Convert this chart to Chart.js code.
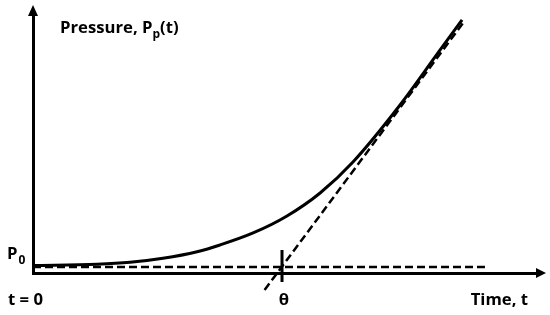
<!DOCTYPE html>
<html>
<head>
<meta charset="utf-8">
<script src="https://cdn.jsdelivr.net/npm/chart.js@4"></script>
<style>
  html, body { margin: 0; padding: 0; background: #fff; }
  #wrap { width: 550px; height: 315px; }
</style>
</head>
<body>
<div id="wrap"><canvas id="c" width="550" height="315"></canvas></div>
<script>
// Time in units of theta, pressure in units of P0
const THETA = 1;
const P0 = 1;

// Measured pressure curve P_p(t)
const curveT = [0, 0.257, 0.39, 0.522, 0.659, 0.751, 0.884, 1.02, 1.153, 1.285, 1.474, 1.635, 1.723];
const curveP = [1.25, 1.45, 1.78, 2.45, 3.55, 4.67, 6.67, 9.5, 13.33, 18.5, 28.0, 37.17, 42.17];

// Asymptote (tangent) extrapolated back to theta
const tangentT = [0.93, 1.73];
const tangentP = [-2.83, 41.83];

// Baseline P0 and the tick at theta
const baseT = [0, 1.815];
const tickP = [3.83, -1.5];

const X_MAX = 2.024;
const Y_MAX = 43;

const FONT = 'bold 16.7px "Open Sans", sans-serif';
const SUB  = 'bold 12px "Open Sans", sans-serif';

const toPts = (xs, ys) => xs.map((x, i) => ({ x, y: ys[i] }));

// Arrowheads and labels, placed from the scales
const decorations = {
  id: 'decorations',
  afterDraw(chart) {
    const { ctx, chartArea: a, scales: { x, y } } = chart;
    ctx.save();
    ctx.fillStyle = '#000';

    // y axis arrow
    ctx.beginPath();
    ctx.moveTo(a.left, a.top - 10);
    ctx.lineTo(a.left - 5, a.top + 1);
    ctx.lineTo(a.left + 5, a.top + 1);
    ctx.closePath();
    ctx.fill();

    // x axis arrow
    ctx.beginPath();
    ctx.moveTo(a.right + 9, a.bottom);
    ctx.lineTo(a.right - 1, a.bottom - 5);
    ctx.lineTo(a.right - 1, a.bottom + 5);
    ctx.closePath();
    ctx.fill();

    ctx.font = FONT;
    ctx.textBaseline = 'alphabetic';

    // y axis title with subscript
    ctx.textAlign = 'left';
    let tx = a.left + 27;
    const ty = 33;
    ctx.fillText('Pressure, P', tx, ty);
    tx += ctx.measureText('Pressure, P').width;
    ctx.font = SUB;
    ctx.fillText('p', tx, ty + 5);
    tx += ctx.measureText('p').width;
    ctx.font = FONT;
    ctx.fillText('(t)', tx, ty);

    // P0 label
    const py = y.getPixelForValue(P0);
    ctx.fillText('P', 7, py - 8);
    const pw = ctx.measureText('P').width;
    ctx.font = SUB;
    ctx.fillText('0', 7 + pw + 1, py - 3);
    ctx.font = FONT;

    // x axis labels
    const by = a.bottom + 32;
    ctx.fillText('t = 0', 8, by);
    ctx.textAlign = 'center';
    ctx.fillText('\u03B8', x.getPixelForValue(THETA) + 2, by);
    ctx.textAlign = 'right';
    ctx.fillText('Time, t', 528, by);

    ctx.restore();
  }
};

const line = (data, extra) => Object.assign({
  data,
  borderColor: '#000',
  pointRadius: 0,
  fill: false,
  clip: false,
}, extra);

new Chart(document.getElementById('c'), {
  type: 'line',
  data: {
    datasets: [
      line(toPts(curveT, curveP), { borderWidth: 3, cubicInterpolationMode: 'monotone' }),
      line(toPts(tangentT, tangentP), { borderWidth: 2.5, borderDash: [8, 4] }),
      line(toPts(baseT, [P0, P0]), { borderWidth: 2.5, borderDash: [8, 4] }),
      line(toPts([THETA, THETA], tickP), { borderWidth: 3 }),
    ],
  },
  options: {
    responsive: false,
    animation: false,
    events: [],
    layout: { padding: { left: 33, right: 13, top: 15, bottom: 42 } },
    plugins: { legend: { display: false }, tooltip: { enabled: false } },
    scales: {
      x: {
        type: 'linear', min: 0, max: X_MAX,
        grid: { display: false, drawTicks: false },
        ticks: { display: false },
        border: { display: true, color: '#000', width: 3 },
        afterFit: s => { s.height = 0; },
      },
      y: {
        type: 'linear', min: 0, max: Y_MAX,
        grid: { display: false, drawTicks: false },
        ticks: { display: false },
        border: { display: true, color: '#000', width: 3 },
        afterFit: s => { s.width = 0; },
      },
    },
  },
  plugins: [decorations],
});
</script>
</body>
</html>
